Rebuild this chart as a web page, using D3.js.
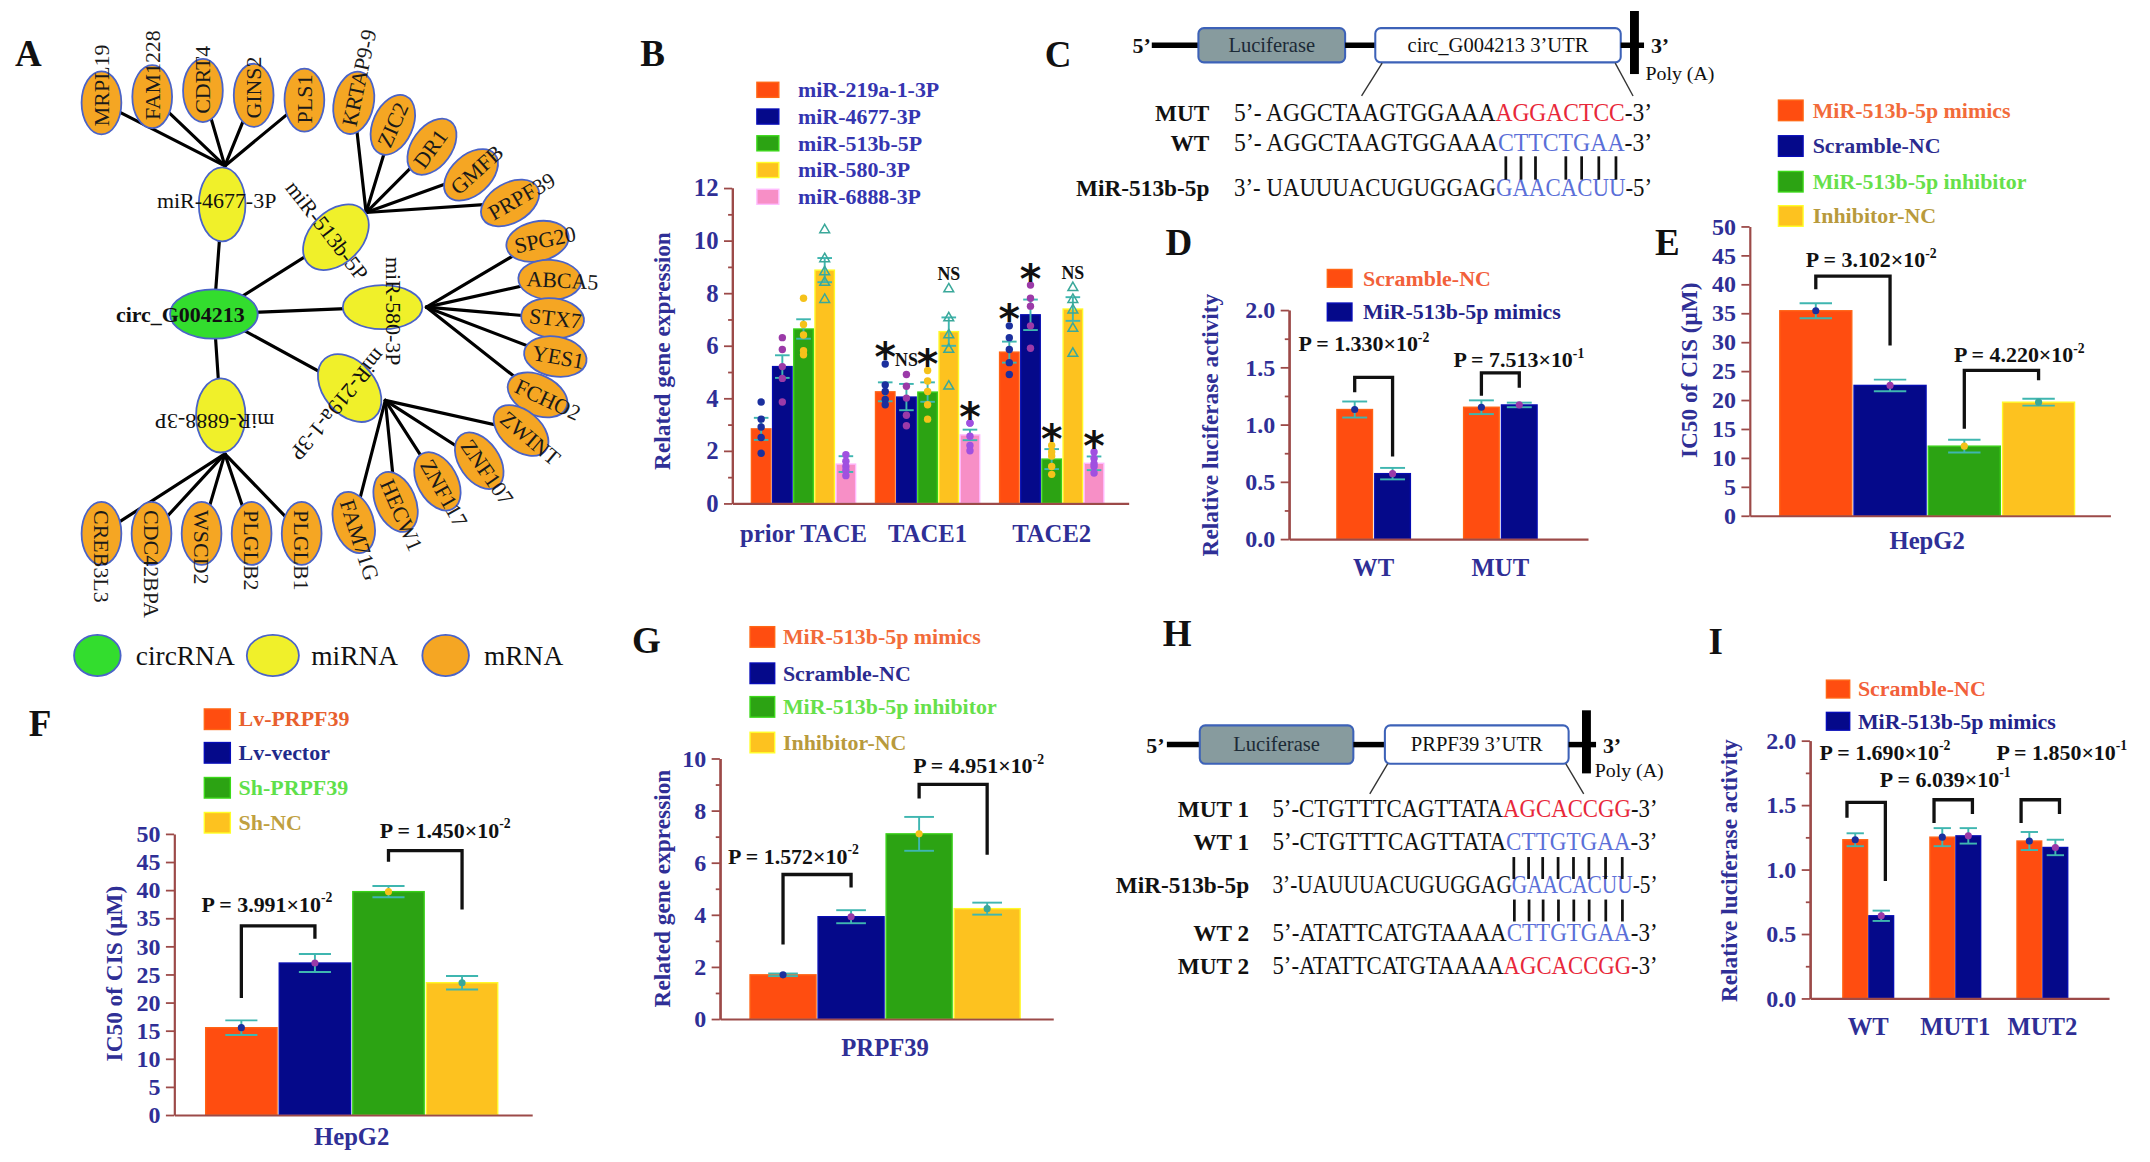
<!DOCTYPE html>
<html><head><meta charset="utf-8">
<script src="https://cdn.jsdelivr.net/npm/d3@7"></script>
<style>
html,body{margin:0;padding:0;background:#fff;overflow:hidden}
svg{display:block}
</style></head><body>
<script>
// ======================= DATA =======================
// Panel A – network
const circRNA = "circ_G004213";
const miRNAs = ["miR-4677-3P","miR-513b-5P","miR-580-3P","miR-219a-1-3P","miR-6888-3P"];
const targets4677 = ["MRPL19","FAM1228","CDRT4","GINS2","PLS1"];
const targets513b = ["KRTAP9-9","ZIC2","DR1","GMFB","PRPF39"];
const targets580  = ["SPG20","ABCA5","STX7","YES1","FCHO2"];
const targets219a = ["ZWINT","ZNF107","ZNF117","HECW1","FAM71G"];
const targets6888 = ["CREB3L3","CDC42BPA","WSCD2","PLGLB2","PLGLB1"];
const nodeTypes = ["circRNA","miRNA","mRNA"];

// Panel B
const bGroups = ["prior TACE","TACE1","TACE2"];
const bSeries = ["miR-219a-1-3P","miR-4677-3P","miR-513b-5P","miR-580-3P","miR-6888-3P"];
const bMeans = [[2.83,5.2,6.63,8.87,1.49],[4.24,4.04,4.23,6.53,2.6],[5.75,7.17,1.68,7.39,1.52]];
const bSEM   = [[0.42,0.43,0.37,0.46,0.3],[0.36,0.5,0.37,0.54,0.2],[0.4,0.58,0.38,0.45,0.26]];
const bPoints = [
 [[3.85,3.2,2.9,2.5,1.9],[6.3,5.85,5.2,4.75,3.85],[7.8,6.8,6.4,5.8,5.65],[10.4,9.3,8.8,8.4,7.75],[1.85,1.6,1.4,1.25,1.05]],
 [[5.3,4.5,4.25,3.95,3.75],[4.9,4.45,4.0,3.35,2.95],[5.05,4.65,4.25,3.75,3.2],[8.15,7.05,6.4,5.85,4.45],[3.05,3.05,2.55,2.2,2.0]],
 [[6.75,6.3,5.85,5.35,4.9],[8.3,7.8,7.5,6.75,5.9],[2.2,1.95,1.8,1.4,1.1],[8.2,7.75,7.35,6.65,5.7],[1.95,1.7,1.5,1.4,1.15]]
];
const bMarks = [["","","","",""],["*","NS","*","NS","*"],["*","*","*","NS","*"]];
const bTicks = [0,2,4,6,8,10,12];

// Panel C – reporter sequences
const cRows = ["MUT","WT","MiR-513b-5p"];
const cPrefix = ["5\u2019- AGGCTAAGTGGAAA","5\u2019- AGGCTAAGTGGAAA","3\u2019- UAUUUACUGUGGAG"];
const cSite = ["AGGACTCC","CTTCTGAA","GAACACUU"];
const cSuffix = ["-3\u2019","-3\u2019","-5\u2019"];
const cPairs = [1,1,1,0,1,1,1,1];

// Panel D
const dGroups = ["WT","MUT"];
const dSeries = ["Scramble-NC","MiR-513b-5p mimics"];
const dMeans = [[1.13,0.57],[1.15,1.17]];
const dSEM = [[0.07,0.05],[0.06,0.02]];
const dP = [["1.330\u00d710","-2"],["7.513\u00d710","-1"]];
const dTicks = [0,0.5,1,1.5,2];

// Panel E
const eSeries = ["MiR-513b-5p mimics","Scramble-NC","MiR-513b-5p inhibitor","Inhibitor-NC"];
const eMeans = [35.4,22.5,12.0,19.6];
const eSEM = [1.3,1.0,1.1,0.6];
const eP = [["3.102\u00d710","-2"],["4.220\u00d710","-2"]];
const icTicks = [0,5,10,15,20,25,30,35,40,45,50];

// Panel F
const fSeries = ["Lv-PRPF39","Lv-vector","Sh-PRPF39","Sh-NC"];
const fMeans = [15.5,27.0,39.7,23.5];
const fSEM = [1.3,1.6,1.0,1.2];
const fP = [["3.991\u00d710","-2"],["1.450\u00d710","-2"]];

// Panel G
const gSeries = ["MiR-513b-5p mimics","Scramble-NC","MiR-513b-5p inhibitor","Inhibitor-NC"];
const gMeans = [1.69,3.92,7.1,4.23];
const gSEM = [0.05,0.25,0.65,0.23];
const gP = [["1.572\u00d710","-2"],["4.951\u00d710","-2"]];
const gTicks = [0,2,4,6,8,10];

// Panel H – reporter sequences
const hRows = ["MUT 1","WT 1","MiR-513b-5p","WT 2","MUT 2"];
const hPrefix = ["5\u2019-CTGTTTCAGTTATA","5\u2019-CTGTTTCAGTTATA","3\u2019-UAUUUACUGUGGAG","5\u2019-ATATTCATGTAAAA","5\u2019-ATATTCATGTAAAA"];
const hSite = ["AGCACCGG","CTTGTGAA","GAACACUU","CTTGTGAA","AGCACCGG"];
const hSuffix = ["-3\u2019","-3\u2019","-5\u2019","-3\u2019","-3\u2019"];
const hPairs = [1,1,1,1,1,1,1,1];

// Panel I
const iGroups = ["WT","MUT1","MUT2"];
const iSeries = ["Scramble-NC","MiR-513b-5p mimics"];
const iMeans = [[1.23,0.64],[1.25,1.26],[1.22,1.17]];
const iSEM = [[0.05,0.04],[0.07,0.06],[0.07,0.06]];
const iP = [["1.690\u00d710","-2"],["6.039\u00d710","-1"],["1.850\u00d710","-1"]];

// ======================= STYLE =======================
const SERIF = "'Liberation Serif','Times New Roman',serif";
const AXIS = "#9c4a48", TICK = "#2f2f96", ERR = "#3fb6b0";
const C_OR = "#ff4d10", C_NV = "#05098a", C_GR = "#2ca313", C_YE = "#fdc21f", C_PK = "#f78fc6";
const NODE_STROKE = "#4a63c8";

const svg = d3.select("body").append("svg")
  .attr("width",2150).attr("height",1162)
  .attr("viewBox","0 0 1568 847.4").attr("preserveAspectRatio","none")
  .style("font-family",SERIF);
svg.append("rect").attr("width",1568).attr("height",848).attr("fill","#fff");

function txt(g,x,y,s,o={}){
  const t=g.append("text").attr("x",x).attr("y",y).text(s)
   .attr("font-size",o.size||16).attr("font-weight",o.bold?"bold":"normal")
   .attr("fill",o.fill||"#111").attr("text-anchor",o.anchor||"start").attr("font-family",o.family||SERIF);
  if(o.dy) t.attr("dy",o.dy);
  return t;
}
function styleAxis(sel,size){
  sel.select(".domain").attr("stroke",AXIS).attr("stroke-width",1.6);
  sel.selectAll(".tick line").attr("stroke",AXIS).attr("stroke-width",1.3);
  sel.selectAll(".tick text").attr("fill",TICK).attr("font-size",size||17).attr("font-weight","bold").attr("font-family",SERIF);
}

// panel letters
[["A",11,48],["B",467,48],["C",762,49],["D",850,186],["E",1207,186],["F",21,537],["G",461,476],["H",848,471],["I",1246,477]]
 .forEach(([l,x,y])=>txt(svg,x,y,l,{size:27,bold:true}));

// ======================= PANEL A =======================
(function(){
  const g = svg.append("g");
  const circ = {x:156,y:229,rx:32,ry:18};
  const mirLayout = [
    {x:162,y:149,rx:17,ry:27,rot:0,  hub:[164,121], lx:158,   ly:146, lrot:0},
    {x:245,y:173,rx:28,ry:19,rot:-45,hub:[267,155], lx:238.5, ly:168, lrot:52},
    {x:279,y:224,rx:29,ry:16,rot:0,  hub:[311,224], lx:287,   ly:227, lrot:90},
    {x:255,y:283,rx:28,ry:19,rot:50, hub:[281,292], lx:246.5, ly:295, lrot:129.5},
    {x:161,y:303,rx:18,ry:27,rot:0,  hub:[164,331], lx:156.5, ly:307, lrot:180}
  ];
  const targetLists = [targets4677,targets513b,targets580,targets219a,targets6888];
  const fans = [
    {x:d3.scaleLinear([0,4],[74,222]), y:d3.scaleLinear([0,2,4],[75,66,73]), r:d3.scaleLinear([0,4],[-90,-90])},
    {x:d3.scaleLinear([0,4],[258,372]), y:d3.scaleLinear([0,2,4],[75,107,148]), r:d3.scaleLinear([0,4],[-78,-30])},
    {x:d3.scaleLinear([0,1,3,4],[392,401,405,392]), y:d3.scaleLinear([0,4],[176,288]), r:d3.scaleLinear([0,1,3,4],[-12,3,10,25])},
    {x:d3.scaleLinear([0,4],[380,258]), y:d3.scaleLinear([0,1,4],[314,336,381]), r:d3.scaleLinear([0,1,4],[40,55,72])},
    {x:d3.scaleLinear([0,4],[74,220]), y:d3.scaleLinear([0,4],[389,389]), r:d3.scaleLinear([0,4],[90,90])}
  ];
  const mrna = [];
  targetLists.forEach((list,mi)=>list.forEach((name,i)=>{
    const f=fans[mi];
    mrna.push({name,mi,x:f.x(i),y:f.y(i),r:f.r(i)});
  }));
  const edges = g.append("g").attr("stroke","#000").attr("stroke-width",2.3).attr("stroke-linecap","round");
  mirLayout.forEach(m=>edges.append("line").attr("x1",circ.x).attr("y1",circ.y).attr("x2",m.x).attr("y2",m.y));
  mrna.forEach(n=>{const h=mirLayout[n.mi].hub; edges.append("line").attr("x1",h[0]).attr("y1",h[1]).attr("x2",n.x).attr("y2",n.y);});
  const mg = g.append("g");
  mg.selectAll("ellipse").data(mrna).join("ellipse")
    .attr("cx",0).attr("cy",0).attr("rx",23).attr("ry",14.5)
    .attr("transform",d=>`translate(${d.x},${d.y}) rotate(${d.r})`)
    .attr("fill","#f5a623").attr("stroke",NODE_STROKE).attr("stroke-width",1.3);
  mg.selectAll("text").data(mrna).join("text")
    .attr("transform",d=>`translate(${d.x},${d.y}) rotate(${d.r})`)
    .attr("x",-17).attr("y",0).attr("dy","0.34em").attr("font-size",16).attr("fill","#1a1a1a")
    .text(d=>d.name);
  mirLayout.forEach(m=>{
    g.append("ellipse").attr("rx",m.rx).attr("ry",m.ry)
     .attr("transform",`translate(${m.x},${m.y}) rotate(${m.rot})`)
     .attr("fill","#f0f02a").attr("stroke",NODE_STROKE).attr("stroke-width",1.3);
  });
  mirLayout.forEach((m,i)=>{
    g.append("text").attr("transform",`translate(${m.lx},${m.ly}) rotate(${m.lrot})`)
     .attr("text-anchor","middle").attr("dy","0.34em").attr("font-size",16).attr("fill","#111").text(miRNAs[i]);
  });
  g.append("ellipse").attr("cx",circ.x).attr("cy",circ.y).attr("rx",circ.rx).attr("ry",circ.ry)
   .attr("fill","#33dd2e").attr("stroke",NODE_STROKE).attr("stroke-width",1.3);
  txt(g,131.5,235,circRNA,{size:16,bold:true,anchor:"middle"});
  const legCols = ["#33dd2e","#f0f02a","#f5a623"];
  const legX = d3.scalePoint().domain(nodeTypes).range([71,325]);
  nodeTypes.forEach((t,i)=>{
    const cx = legX(t) + (i===1?1:0);
    g.append("ellipse").attr("cx",cx).attr("cy",478).attr("rx",i===1?19:17).attr("ry",15)
     .attr("fill",legCols[i]).attr("stroke",NODE_STROKE).attr("stroke-width",1.3);
    txt(g,cx+28,485,t,{size:20});
  });
})();

// ======================= BAR PANEL HELPER =======================
function barPanel(cfg){
  const g = svg.append("g");
  const y = d3.scaleLinear().domain([0,cfg.max]).range([cfg.y0,cfg.y1]);
  const outer = d3.scaleBand().domain(cfg.groups).range(cfg.range).paddingInner(cfg.gPad||0);
  const inner = d3.scaleBand().domain(cfg.series).range([0,outer.bandwidth()]).paddingInner(cfg.sPad||0);
  const bw = inner.bandwidth();
  const rows=[];
  cfg.groups.forEach((gr,gi)=>cfg.series.forEach((s,si)=>rows.push({gi,si,x:outer(gr)+inner(s),v:cfg.means[gi][si],e:cfg.sem[gi][si]})));
  g.selectAll("rect.bar").data(rows).join("rect").attr("class","bar")
    .attr("x",d=>d.x).attr("width",bw).attr("y",d=>y(d.v)).attr("height",d=>cfg.y0-y(d.v))
    .attr("fill",d=>cfg.colors[d.si]).attr("stroke",d=>d3.color(cfg.colors[d.si]).brighter(0.7)).attr("stroke-width",1);
  const cw = cfg.cap*bw/2;
  const eg = g.append("g").attr("stroke",ERR).attr("stroke-width",1.4);
  rows.forEach(d=>{
    const cx=d.x+bw/2;
    eg.append("line").attr("x1",cx).attr("x2",cx).attr("y1",y(d.v-d.e)).attr("y2",y(d.v+d.e));
    eg.append("line").attr("x1",cx-cw).attr("x2",cx+cw).attr("y1",y(d.v+d.e)).attr("y2",y(d.v+d.e));
    eg.append("line").attr("x1",cx-cw).attr("x2",cx+cw).attr("y1",y(d.v-d.e)).attr("y2",y(d.v-d.e));
  });
  if(cfg.meanDots){
    g.selectAll("circle.md").data(rows).join("circle").attr("class","md")
     .attr("cx",d=>d.x+bw/2).attr("cy",d=>y(d.v)).attr("r",2.6).attr("fill",d=>cfg.meanDots[d.si]);
  }
  if(cfg.minor) g.append("g").attr("transform",`translate(${cfg.axisX},0)`)
     .call(d3.axisLeft(y).tickValues(cfg.minor).tickSize(3).tickFormat("").tickSizeOuter(0)).call(s=>styleAxis(s));
  g.append("g").attr("transform",`translate(${cfg.axisX},0)`)
     .call(d3.axisLeft(y).tickValues(cfg.ticks).tickFormat(cfg.fmt).tickSize(6).tickPadding(4).tickSizeOuter(0))
     .call(s=>styleAxis(s,cfg.tickSize||17.5));
  g.append("g").attr("transform",`translate(0,${cfg.y0})`)
     .call(d3.axisBottom(d3.scaleLinear().range([cfg.axisX,cfg.xEnd])).tickValues([]).tickSizeOuter(0)).call(s=>styleAxis(s));
  g.append("text").attr("transform",`translate(${cfg.ylx},${cfg.yly}) rotate(-90)`)
   .attr("text-anchor","middle").attr("dy","0.35em").attr("font-size",cfg.ylSize||17).attr("font-weight","bold")
   .attr("fill",TICK).text(cfg.ylabel);
  cfg.groups.forEach((lab,gi)=>{
    const cx = outer(lab)+outer.bandwidth()/2;
    txt(g,cx,cfg.xlY,lab,{size:cfg.xlSize||18,bold:true,fill:TICK,anchor:"middle"});
  });
  const cx = (gi,si)=>outer(cfg.groups[gi])+inner(cfg.series[si])+bw/2;
  return {g,y,cx,bw,outer,inner};
}
function legend(g,sx,tx,ys,names,colors,tcols,sw,sh,size){
  names.forEach((n,i)=>{
    g.append("rect").attr("x",sx).attr("y",ys[i]-sh/2).attr("width",sw).attr("height",sh)
     .attr("fill",colors[i]).attr("stroke",d3.color(colors[i]).brighter(0.8)).attr("stroke-width",1);
    txt(g,tx,ys[i]+size*0.33,n,{size,bold:true,fill:tcols[i]});
  });
}
function pText(g,x,yv,p){
  const t=g.append("text").attr("x",x).attr("y",yv).attr("font-size",16).attr("font-weight","bold").attr("fill","#111");
  t.append("tspan").text("P = "+p[0]);
  t.append("tspan").text(p[1]).attr("font-size",10).attr("dy",-7);
}
function bracket(P,xl,xr,vL,vR,vT){
  P.g.append("path").attr("fill","none").attr("stroke","#111").attr("stroke-width",2.4)
   .attr("d",`M${xl},${P.y(vL)}V${P.y(vT)}H${xr}V${P.y(vR)}`);
}

// ======================= PANEL B =======================
(function(){
  const cols=[C_OR,C_NV,C_GR,C_YE,C_PK];
  const P = barPanel({groups:bGroups,series:bSeries,means:bMeans,sem:bSEM,colors:cols,
    max:12,y0:367,y1:137,axisX:534,xEnd:823,range:[548,805],gPad:0.16,sPad:0.08,cap:0.75,
    ticks:bTicks,minor:[1,3,5,7,9,11],fmt:d3.format("d"),tickSize:18,ylabel:"Related gene expression",ylx:483,yly:256,xlY:395});
  const dotCols=["#1b2f9e","#9b3aa8","#f5c21a","#3aa89a","#a050e0"];
  const pg=P.g.append("g");
  bPoints.forEach((grp,gi)=>grp.forEach((pts,si)=>pts.forEach(v=>{
    const x=P.cx(gi,si), yy=P.y(v);
    if(si===3){
      pg.append("path").attr("d",d3.symbol(d3.symbolTriangle,22)()).attr("transform",`translate(${x},${yy})`)
        .attr("fill","none").attr("stroke",dotCols[si]).attr("stroke-width",1.1);
    } else {
      pg.append("circle").attr("cx",x).attr("cy",yy).attr("r",2.7).attr("fill",dotCols[si]);
    }
  })));
  bMarks.forEach((grp,gi)=>grp.forEach((m,si)=>{
    if(!m) return;
    const yc=P.y(d3.max(bPoints[gi][si])+0.6), x=P.cx(gi,si);
    if(m==="*") txt(P.g,x,yc+17,"*",{size:30,bold:true,anchor:"middle",family:"'DejaVu Sans',sans-serif"});
    else txt(P.g,x,yc+5,m,{size:13,bold:true,anchor:"middle"});
  }));
  legend(P.g,552,582,[65.5,85,104.5,124,143.5],bSeries,cols,bSeries.map(()=>"#3535b0"),16,11,16);
})();

// ======================= CONSTRUCT DIAGRAMS =======================
function construct(g,c){
  const lw=4;
  txt(g,c.x5,c.ym+6,"5\u2019",{size:16,bold:true});
  g.append("line").attr("x1",c.l0).attr("x2",c.lucX[0]).attr("y1",c.ym).attr("y2",c.ym).attr("stroke","#000").attr("stroke-width",lw);
  g.append("rect").attr("x",c.lucX[0]).attr("y",c.ym-c.h/2).attr("width",c.lucX[1]-c.lucX[0]).attr("height",c.h).attr("rx",4)
   .attr("fill","#879b9e").attr("stroke","#3d62b8").attr("stroke-width",1.5);
  txt(g,(c.lucX[0]+c.lucX[1])/2,c.ym+5,"Luciferase",{size:15,anchor:"middle",fill:"#1c2a36"});
  g.append("line").attr("x1",c.lucX[1]).attr("x2",c.utrX[0]).attr("y1",c.ym).attr("y2",c.ym).attr("stroke","#000").attr("stroke-width",lw);
  g.append("rect").attr("x",c.utrX[0]).attr("y",c.ym-c.h/2).attr("width",c.utrX[1]-c.utrX[0]).attr("height",c.h).attr("rx",4)
   .attr("fill","#fff").attr("stroke","#3d62b8").attr("stroke-width",1.5);
  txt(g,(c.utrX[0]+c.utrX[1])/2,c.ym+5,c.utr,{size:15,anchor:"middle"});
  g.append("line").attr("x1",c.utrX[1]).attr("x2",c.barX+7).attr("y1",c.ym).attr("y2",c.ym).attr("stroke","#000").attr("stroke-width",lw);
  g.append("line").attr("x1",c.barX).attr("x2",c.barX).attr("y1",c.bar[0]).attr("y2",c.bar[1]).attr("stroke","#000").attr("stroke-width",6.5);
  txt(g,c.barX+12,c.ym+6,"3\u2019",{size:16,bold:true});
  txt(g,c.polyX,c.polyY,"Poly  (A)",{size:14.5});
  c.diag.forEach(d=>g.append("line").attr("x1",d[0]).attr("y1",d[1]).attr("x2",d[2]).attr("y2",d[3]).attr("stroke","#333").attr("stroke-width",1));
}
function seqBlock(g,labels,prefix,site,suffix,c){
  const els = labels.map((lab,i)=>{
    txt(g,c.labelX,c.ys[i],lab,{size:17,bold:true,anchor:"end"});
    const gg=g.append("g").attr("transform",`translate(${c.seqX},${c.ys[i]})`);
    const t=gg.append("text").attr("x",0).attr("y",0).attr("font-size",c.size);
    t.append("tspan").text(prefix[i]).attr("fill","#111");
    t.append("tspan").text(site[i]).attr("fill",c.siteCol[i]);
    t.append("tspan").text(suffix[i]).attr("fill","#111");
    let sx=1;
    try{ sx=c.tl/t.node().getComputedTextLength(); }catch(e){}
    gg.attr("transform",`translate(${c.seqX},${c.ys[i]}) scale(${sx},1)`);
    return {t,sx};
  });
  c.pairs.forEach(pp=>{
    const el=els[pp.row], t=el.t.node(), off=prefix[pp.row].length;
    pp.mask.forEach((m,j)=>{
      if(!m) return;
      let x;
      try{ const a=t.getStartPositionOfChar(off+j), b=t.getEndPositionOfChar(off+j); x=c.seqX+el.sx*(a.x+b.x)/2; }
      catch(e){ x=c.seqX+c.tl*(off+j+0.5)/(off+11); }
      g.append("line").attr("x1",x).attr("x2",x).attr("y1",pp.y0).attr("y2",pp.y1).attr("stroke","#111").attr("stroke-width",2);
    });
  });
}
const RED="#e8283a", BLUE="#5b6fd8";
(function(){
  const g=svg.append("g");
  construct(g,{x5:826,l0:840,ym:33,h:25,lucX:[874,981],utrX:[1003,1182],utr:"circ_G004213 3\u2019UTR",barX:1192,bar:[8,54],
    polyX:1200,polyY:58,diag:[[1008,46,993,70],[1178,46,1191,70]]});
  seqBlock(g,cRows,cPrefix,cSite,cSuffix,{labelX:882,seqX:900,ys:[88,110,143],size:18.5,tl:305,
    siteCol:[RED,BLUE,BLUE],pairs:[{row:1,mask:cPairs,y0:114,y1:131}]});
})();
(function(){
  const g=svg.append("g");
  construct(g,{x5:836,l0:851,ym:543,h:28,lucX:[875,987],utrX:[1010,1144],utr:"PRPF39 3\u2019UTR",barX:1157,bar:[518,564],
    polyX:1163,polyY:567,diag:[[1012,557,999,579],[1142,557,1155,579]]});
  seqBlock(g,hRows,hPrefix,hSite,hSuffix,{labelX:911,seqX:928,ys:[596,620,651,686,710],size:19,tl:281,
    siteCol:[RED,BLUE,BLUE,BLUE,RED],pairs:[{row:1,mask:hPairs,y0:625,y1:641},{row:3,mask:hPairs,y0:656,y1:672}]});
})();

// ======================= PANEL D =======================
(function(){
  const cols=[C_OR,C_NV];
  const P=barPanel({groups:dGroups,series:dSeries,means:dMeans,sem:dSEM,colors:cols,meanDots:["#1b2f9e","#9b3aa8"],
    max:2,y0:393,y1:226,axisX:940,xEnd:1158,range:[975,1121],gPad:0.42,sPad:0.06,cap:0.7,
    ticks:dTicks,minor:[0.25,0.75,1.25,1.75],fmt:d3.format(".1f"),ylabel:"Relative luciferase activity",ylx:882,yly:310,xlY:420});
  bracket(P,P.cx(0,0),P.cx(0,1),1.28,0.72,1.41);
  bracket(P,P.cx(1,0),P.cx(1,1),1.25,1.32,1.45);
  pText(P.g,947,P.y(1.64),dP[0]);
  pText(P.g,1060,P.y(1.5),dP[1]);
  legend(P.g,968,994,[203,227.5],dSeries,cols,["#f2603a","#23238a"],18,13,16);
})();

// ======================= PANEL E =======================
(function(){
  const cols=[C_OR,C_NV,C_GR,C_YE];
  const P=barPanel({groups:["HepG2"],series:eSeries,means:[eMeans],sem:[eSEM],colors:cols,meanDots:["#1b2f9e","#9b3aa8","#f5c21a","#3aa89a"],
    max:50,y0:376,y1:165,axisX:1276,xEnd:1539,range:[1298,1513],sPad:0.03,cap:0.45,
    ticks:icTicks,fmt:d3.format("d"),ylabel:"IC50 of CIS (\u03bcM)",ylx:1232,yly:270,xlY:400});
  bracket(P,P.cx(0,0),P.cx(0,1),39.1,29.4,41.4);
  bracket(P,P.cx(0,2),P.cx(0,3),15.0,23.4,25.1);
  pText(P.g,1317,P.y(42.9),eP[0]);
  pText(P.g,1425,P.y(26.5),eP[1]);
  legend(P.g,1297,1322,[80.5,106.5,132.5,157.5],eSeries,cols,["#f26b3a","#2b2b8f","#66e04a","#b89a3c"],18,15,16);
})();

// ======================= PANEL F =======================
(function(){
  const cols=[C_OR,C_NV,C_GR,C_YE];
  const P=barPanel({groups:["HepG2"],series:fSeries,means:[fMeans],sem:[fSEM],colors:cols,meanDots:["#1b2f9e","#9b3aa8","#f5c21a","#3aa89a"],
    max:50,y0:813,y1:608,axisX:127,xEnd:388,range:[150,363],sPad:0.03,cap:0.45,
    ticks:icTicks,fmt:d3.format("d"),ylabel:"IC50 of CIS (\u03bcM)",ylx:83,yly:710,xlY:835});
  bracket(P,P.cx(0,0),P.cx(0,1),20.8,31.3,33.6);
  bracket(P,P.cx(0,2),P.cx(0,3),45.0,36.5,47.0);
  pText(P.g,147,P.y(36.1),fP[0]);
  pText(P.g,277,P.y(49.3),fP[1]);
  legend(P.g,149,174,[524.5,549,574.5,600],fSeries,cols,["#e8602e","#1f2a8a","#5fe04a","#c0a040"],19,15,16);
})();

// ======================= PANEL G =======================
(function(){
  const cols=[C_OR,C_NV,C_GR,C_YE];
  const P=barPanel({groups:["PRPF39"],series:gSeries,means:[gMeans],sem:[gSEM],colors:cols,meanDots:["#1b2f9e","#9b3aa8","#f5c21a","#3aa89a"],
    max:10,y0:743,y1:553,axisX:525,xEnd:768,range:[547,744],sPad:0.03,cap:0.45,
    ticks:gTicks,minor:[1,3,5,7,9],fmt:d3.format("d"),ylabel:"Related gene expression",ylx:483,yly:648,xlY:770});
  bracket(P,P.cx(0,0),P.cx(0,1),2.85,5.04,5.54);
  bracket(P,P.cx(0,2),P.cx(0,3),8.46,6.3,9.0);
  pText(P.g,531,P.y(5.96),gP[0]);
  pText(P.g,666,P.y(9.42),gP[1]);
  legend(P.g,547,571,[464.5,491,515.5,541.5],gSeries,cols,["#f26b3a","#2b2b8f","#66e04a","#b89a3c"],18,15,16);
})();

// ======================= PANEL I =======================
(function(){
  const cols=[C_OR,C_NV];
  const P=barPanel({groups:iGroups,series:iSeries,means:iMeans,sem:iSEM,colors:cols,meanDots:["#1b2f9e","#9b3aa8"],
    max:2,y0:728,y1:540,axisX:1320,xEnd:1538,range:[1344,1508],gPad:0.417,sPad:0.05,cap:0.7,
    ticks:dTicks,minor:[0.25,0.75,1.25,1.75],fmt:d3.format(".1f"),ylabel:"Relative luciferase activity",ylx:1261,yly:635,xlY:755});
  const lx=gi=>P.outer(iGroups[gi])+3, rx=gi=>P.cx(gi,1)+3;
  bracket(P,lx(0),rx(0),1.40,0.91,1.52);
  bracket(P,lx(1),rx(1),1.36,1.43,1.54);
  bracket(P,lx(2),rx(2),1.36,1.43,1.54);
  pText(P.g,1327,P.y(1.85),iP[0]);
  pText(P.g,1371,P.y(1.64),iP[1]);
  pText(P.g,1456,P.y(1.85),iP[2]);
  legend(P.g,1332,1355,[502.5,526],iSeries,cols,["#f2603a","#23238a"],17,13,16);
})();
</script></body></html>
